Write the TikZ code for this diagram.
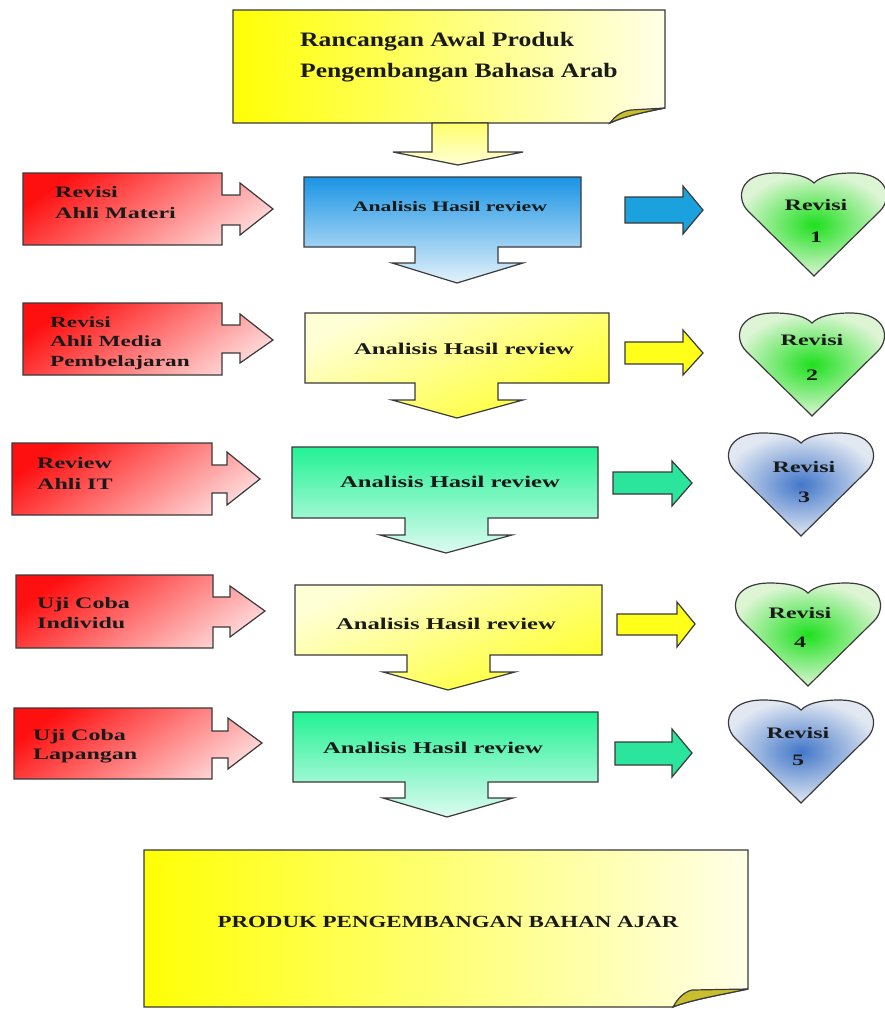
\documentclass[tikz,border=0pt]{standalone}
\usepackage{fontspec}
\setmainfont{Liberation Serif}
\newfontfamily\wfont{Liberation Serif}[FakeStretch=1.5]
\newfontfamily\tfont{Liberation Serif}[FakeStretch=1.25]
\newfontfamily\bfont{Liberation Serif}[FakeStretch=1.35]
\definecolor{linec}{HTML}{3A3A3A}
\definecolor{txtc}{HTML}{1A1A1A}
\definecolor{redA}{HTML}{FF1010}
\definecolor{redB}{HTML}{FFD6D6}
\definecolor{blueA}{HTML}{1A94E4}
\definecolor{blueB}{HTML}{E4F2FC}
\definecolor{yelA}{HTML}{FFFFD6}
\definecolor{yelB}{HTML}{FFFF2E}
\definecolor{grnA}{HTML}{22F294}
\definecolor{grnB}{HTML}{DDFBF1}
\definecolor{blueArr}{HTML}{1BA1DE}
\definecolor{yelArr}{HTML}{FFFF1A}
\definecolor{grnArr}{HTML}{2AE59B}
\definecolor{hgIn}{HTML}{1EE01E}
\definecolor{hgOut}{HTML}{DDF5D5}
\definecolor{hbIn}{HTML}{4277C9}
\definecolor{hbOut}{HTML}{E2E8F2}
\definecolor{noteL}{HTML}{FFFF05}
\definecolor{noteM}{HTML}{FFFF9A}
\definecolor{noteR}{HTML}{FFFFE8}
\definecolor{flapc}{HTML}{C9BF2E}
\tikzset{
  outl/.style={draw=linec, line width=1.2pt, line join=miter},
  redsh/.style={outl, top color=redA, bottom color=redB, shading angle=35},
  bluesh/.style={outl, top color=blueA, bottom color=blueB},
  yelsh/.style={outl, top color=yelA, bottom color=yelB, shading angle=25},
  grnsh/.style={outl, top color=grnA, bottom color=grnB},
  notesh/.style={outl, left color=noteL, middle color=noteM, right color=noteR},
  flapsh/.style={outl, fill=flapc},
  ghearts/.style={outl, inner color=hgIn, outer color=hgOut},
  bhearts/.style={outl, inner color=hbIn, outer color=hbOut},
  lbl/.style={text=txtc, inner sep=0pt, font=\wfont\bfseries\fontsize{16}{20}\selectfont},
  lblA/.style={text=txtc, inner sep=0pt, font=\wfont\bfseries\fontsize{16.4}{20}\selectfont},
  hlbl/.style={text=txtc, inner sep=0pt, align=center, font=\wfont\bfseries\fontsize{16}{31}\selectfont},
}
\newcommand\hearty[2]{\path[shift={#1},#2] (0,103) -- (-66,38) .. controls (-78,26) and (-76,0) .. (-38,0) .. controls (-18,0) and (-6,4) .. (0,10) .. controls (6,4) and (18,0) .. (38,0) .. controls (76,0) and (78,26) .. (66,38) -- cycle;}
\begin{document}
\begin{tikzpicture}[x=1pt,y=-1pt]
\useasboundingbox[fill=white] (0,0) rectangle (884,1009);
% top note
\path[notesh] (233,10) -- (665,10) -- (665,108) .. controls (645,112) and (625,116) .. (610,123) -- (233,123) -- cycle;
\path[flapsh] (610,123) .. controls (615,116) and (622,111) .. (631,110) -- (665,108) .. controls (645,112) and (625,116) .. (610,123) -- cycle;
\node[text=txtc, inner sep=0pt, anchor=west, align=left, font=\tfont\bfseries\fontsize{20.5}{31}\selectfont] (top) at (300,57.5) {Rancangan Awal Produk\\Pengembangan Bahasa Arab};
% top down arrow
\path[outl, top color=yelB!70!white, bottom color=yelA] (432,123) -- (488,123) -- (488,152) -- (523,152) -- (458,165) -- (393,152) -- (432,152) -- cycle;
% red arrows
\path[redsh] (23,173) -- (222,173) -- (222,195) -- (240,195) -- (240,183) -- (273,209) -- (240,235) -- (240,225) -- (222,225) -- (222,245) -- (23,245) -- cycle;
\path[redsh] (23,303) -- (222,303) -- (222,325) -- (240,325) -- (240,314) -- (273,340) -- (240,363) -- (240,353) -- (222,353) -- (222,375) -- (23,375) -- cycle;
\path[redsh] (12,443) -- (212,443) -- (212,465) -- (227,465) -- (227,452) -- (260,479) -- (227,505) -- (227,493) -- (212,493) -- (212,515) -- (12,515) -- cycle;
\path[redsh] (16,575) -- (213,575) -- (213,597) -- (230,597) -- (230,586) -- (265,611) -- (230,637) -- (230,627) -- (213,627) -- (213,648) -- (16,648) -- cycle;
\path[redsh] (14,708) -- (212,708) -- (212,731) -- (228,731) -- (228,718) -- (262,743) -- (228,769) -- (228,758) -- (212,758) -- (212,779) -- (14,779) -- cycle;
\node[lbl, anchor=west, align=left, font=\wfont\bfseries\fontsize{16}{21}\selectfont] (r1) at (55,202.5) {Revisi\\Ahli Materi};
\node[lbl, anchor=west, align=left, font=\wfont\bfseries\fontsize{15.5}{19.5}\selectfont] (r2) at (50,343) {Revisi\\Ahli Media\\Pembelajaran};
\node[lbl, anchor=west, align=left, font=\wfont\bfseries\fontsize{16}{21}\selectfont] (r3) at (37,473.5) {Review\\Ahli IT};
\node[lbl, anchor=west, align=left] (r4) at (37,613) {Uji Coba\\Individu};
\node[lbl, anchor=west, align=left, font=\wfont\bfseries\fontsize{16}{19}\selectfont] (r5) at (33,746.5) {Uji Coba\\Lapangan};
% analisis callouts
\path[bluesh] (304,177) -- (581,177) -- (581,247) -- (498,247) -- (498,263) -- (523,263) -- (457,283) -- (392,263) -- (415,263) -- (415,247) -- (304,247) -- cycle;
\path[yelsh] (305,313) -- (609,313) -- (609,383) -- (498,383) -- (498,400) -- (523,400) -- (457,418) -- (392,400) -- (415,400) -- (415,383) -- (305,383) -- cycle;
\path[grnsh] (292,447) -- (598,447) -- (598,518) -- (488,518) -- (488,535) -- (512,535) -- (446,553) -- (380,535) -- (405,535) -- (405,518) -- (292,518) -- cycle;
\path[yelsh] (295,585) -- (602,585) -- (602,655) -- (490,655) -- (490,672) -- (515,672) -- (448,690) -- (383,672) -- (407,672) -- (407,655) -- (295,655) -- cycle;
\path[grnsh] (293,712) -- (598,712) -- (598,782) -- (488,782) -- (488,798) -- (513,798) -- (447,817) -- (383,798) -- (405,798) -- (405,782) -- (293,782) -- cycle;
\node[lblA, font=\wfont\bfseries\fontsize{14.5}{18}\selectfont] (a1) at (450,207) {Analisis Hasil review};
\node[lblA] (a2) at (464,349) {Analisis Hasil review};
\node[lblA] (a3) at (450,482) {Analisis Hasil review};
\node[lblA] (a4) at (446,624) {Analisis Hasil review};
\node[lblA] (a5) at (433,748) {Analisis Hasil review};
% right arrows
\path[outl, fill=blueArr] (625,197) -- (683,197) -- (683,186) -- (703,210) -- (683,234) -- (683,223) -- (625,223) -- cycle;
\path[outl, fill=yelArr] (625,342) -- (683,342) -- (683,330) -- (703,353) -- (683,375) -- (683,364) -- (625,364) -- cycle;
\path[outl, fill=grnArr] (613,472) -- (672,472) -- (672,461) -- (692,483) -- (672,506) -- (672,494) -- (613,494) -- cycle;
\path[outl, fill=yelArr] (617,614) -- (677,614) -- (677,602) -- (695,624) -- (677,647) -- (677,635) -- (617,635) -- cycle;
\path[outl, fill=grnArr] (615,742) -- (672,742) -- (672,729) -- (692,753) -- (672,777) -- (672,765) -- (615,765) -- cycle;
% hearts
\hearty{(814,173)}{ghearts}
\hearty{(812,313)}{ghearts}
\hearty{(801,433)}{bhearts}
\hearty{(808,583)}{ghearts}
\hearty{(801,700)}{bhearts}
\node[hlbl, font=\wfont\bfseries\fontsize{16}{32}\selectfont] (h1) at (816,221) {Revisi\\1};
\node[hlbl, font=\wfont\bfseries\fontsize{16}{35}\selectfont] (h2) at (812,357.5) {Revisi\\2};
\node[hlbl, font=\wfont\bfseries\fontsize{16}{30}\selectfont] (h3) at (804,482) {Revisi\\3};
\node[hlbl, font=\wfont\bfseries\fontsize{16}{29}\selectfont] (h4) at (800,627.5) {Revisi\\4};
\node[hlbl, font=\wfont\bfseries\fontsize{16}{27}\selectfont] (h5) at (798,746.5) {Revisi\\5};
% bottom note
\path[notesh] (144,850) -- (748,850) -- (748,989) .. controls (725,994) and (690,1000) .. (673,1007) -- (144,1007) -- cycle;
\path[flapsh] (673,1007) .. controls (678,998) and (684,992) .. (692,990) -- (748,989) .. controls (725,994) and (690,1000) .. (673,1007) -- cycle;
\node[text=txtc, inner sep=0pt, font=\bfont\bfseries\fontsize{17}{20}\selectfont] (prod) at (448,922) {PRODUK PENGEMBANGAN BAHAN AJAR};
\end{tikzpicture}
\end{document}
